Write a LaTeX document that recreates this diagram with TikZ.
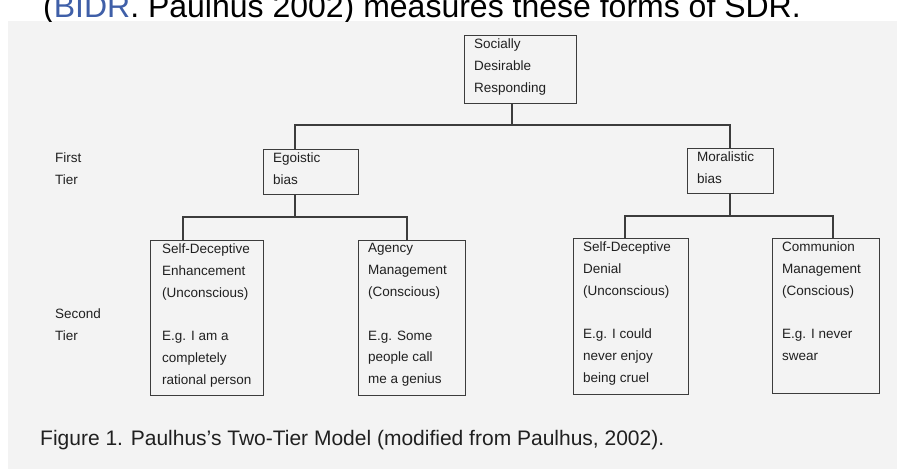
\documentclass[tikz,border=0pt]{standalone}
\usepackage{fontspec}
\setmainfont{Liberation Sans}
\definecolor{bggray}{HTML}{F3F3F3}
\definecolor{boxline}{HTML}{3C3C3C}
\definecolor{txt}{HTML}{202020}
\definecolor{linkblue}{HTML}{3F5FA8}
\begin{document}
\begin{tikzpicture}[x=1pt,y=-1pt,
  box/.style={draw=boxline,line width=1.1pt,inner sep=0pt,anchor=north west},
  boxtext/.style={anchor=north west,inner sep=0pt,align=left,text=txt,
    font=\fontsize{13.5}{21.8}\selectfont},
  conn/.style={draw=boxline,line width=1.1pt}]
\useasboundingbox (0,0) rectangle (897,469);
\fill[white] (0,0) rectangle (897,469);
\fill[bggray] (8,21) rectangle (897,469);
\begin{scope}
\clip (0,0) rectangle (897,21);
\node[anchor=base west,inner sep=0pt,font=\fontsize{32}{38}\selectfont,text=black] (top) at (43,17)
  {(\textcolor{linkblue}{BIDR}. Paulhus 2002) measures these forms of SDR.};
\end{scope}
% boxes
\node[box,minimum width=112pt,minimum height=68pt] (sdr) at (464,35) {};
\node[box,minimum width=95pt,minimum height=45pt] (ego) at (263,149) {};
\node[box,minimum width=86pt,minimum height=45pt] (mor) at (687,148) {};
\node[box,minimum width=113pt,minimum height=155pt] (sde) at (150,240) {};
\node[box,minimum width=107pt,minimum height=155pt] (agy) at (358,240) {};
\node[box,minimum width=115pt,minimum height=156pt] (sdd) at (573,238) {};
\node[box,minimum width=107pt,minimum height=155pt] (com) at (772,238) {};
% texts
\node[boxtext] (tsdr) at ([xshift=10pt,yshift=-4pt]sdr.north west) {Socially\\Desirable\\Responding};
\node[boxtext] (tego) at ([xshift=10pt,yshift=-4pt]ego.north west) {Egoistic\\bias};
\node[boxtext] (tmor) at ([xshift=10pt,yshift=-4pt]mor.north west) {Moralistic\\bias};
\node[boxtext] (tsde) at ([xshift=12pt,yshift=-3.5pt]sde.north west) {Self-Deceptive\\Enhancement\\(Unconscious)\\[21.8pt]E.g. I am a\\completely\\rational person};
\node[boxtext] (tagy) at ([xshift=10pt,yshift=-3.5pt]agy.north west) {Agency\\Management\\(Conscious)\\[21.8pt]E.g. Some\\people call\\me a genius};
\node[boxtext] (tsdd) at ([xshift=10pt,yshift=-3.5pt]sdd.north west) {Self-Deceptive\\Denial\\(Unconscious)\\[21.8pt]E.g. I could\\never enjoy\\being cruel};
\node[boxtext] (tcom) at ([xshift=10pt,yshift=-3.5pt]com.north west) {Communion\\Management\\(Conscious)\\[21.8pt]E.g. I never\\swear};
% tier labels
\node[boxtext] (first) at (55,153) {First\\Tier};
\node[boxtext] (second) at (55,309) {Second\\Tier};
% caption
\node[anchor=base west,inner sep=0pt,text=txt,font=\fontsize{21}{25}\selectfont] (cap) at (40,445)
  {Figure 1. Paulhus's Two-Tier Model (modified from Paulhus, 2002).};
% connector points
\coordinate (sdrB) at (512,103);
\coordinate (egoT) at (295,149);
\coordinate (morT) at (730,148);
\coordinate (egoB) at (295,194);
\coordinate (morB) at (730,193);
\coordinate (sdeT) at (183,240);
\coordinate (agyT) at (407,240);
\coordinate (sddT) at (625,238);
\coordinate (comT) at (833,238);
\coordinate (bar1) at (512,125);
\coordinate (bar2) at (295,217);
\coordinate (bar3) at (730,216);
% connectors
\draw[conn] (sdrB) -- (bar1);
\draw[conn] (egoT) |- (bar1) -| (morT);
\draw[conn] (egoB) -- (bar2);
\draw[conn] (sdeT) |- (bar2) -| (agyT);
\draw[conn] (morB) -- (bar3);
\draw[conn] (sddT) |- (bar3) -| (comT);
\end{tikzpicture}
\end{document}
